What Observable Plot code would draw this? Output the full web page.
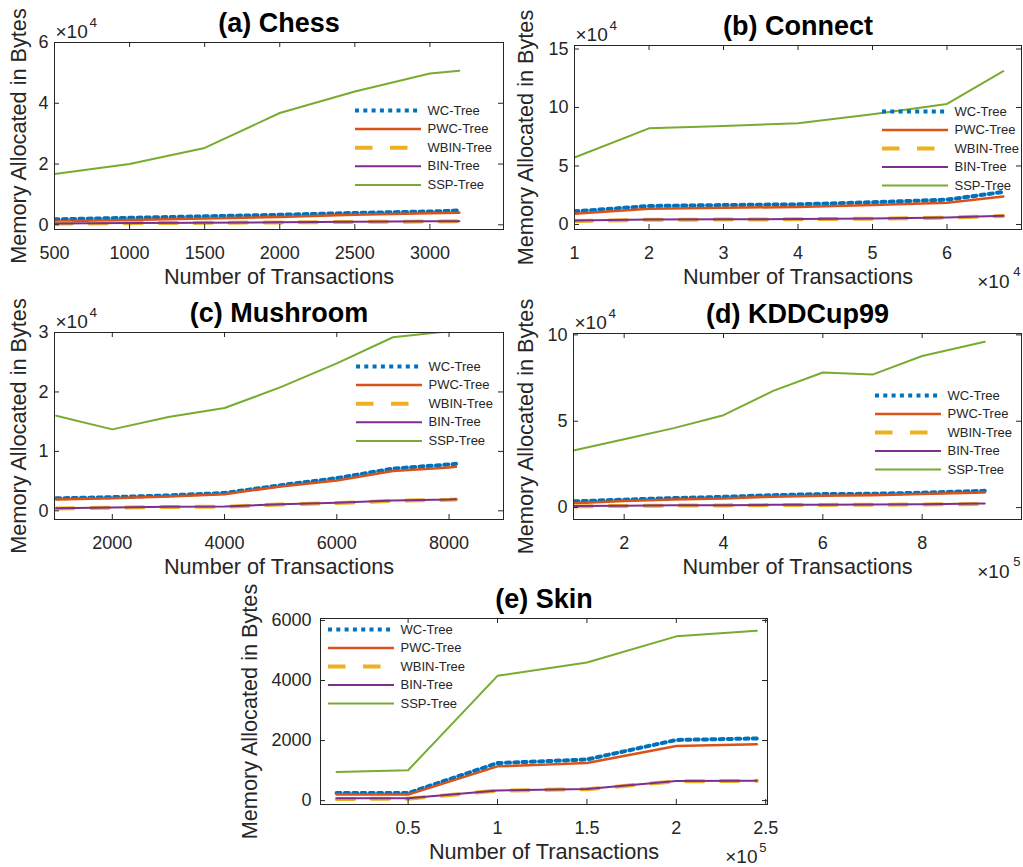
<!DOCTYPE html>
<html>
<head>
<meta charset="utf-8">
<script src="https://cdn.jsdelivr.net/npm/d3@7"></script>
<script src="https://cdn.jsdelivr.net/npm/@observablehq/plot@0.6"></script>
<style>
  html, body { margin: 0; padding: 0; background: #ffffff; }
  #root { position: relative; width: 1023px; height: 867px; overflow: hidden; background: #ffffff;
          font-family: "Liberation Sans", Arial, Helvetica, sans-serif; }
  .pnl { position: absolute; }
</style>
</head>
<body>
<div id="root"></div>
<script>
// ---------- data ----------
const seriesNames = ["WC-Tree", "PWC-Tree", "WBIN-Tree", "BIN-Tree", "SSP-Tree"];

const chessX    = [500, 1000, 1500, 2000, 2500, 3000, 3196];
const chessWC   = [1800, 2300, 2800, 3300, 3900, 4400, 4700];
const chessPWC  = [1100, 1600, 2100, 2600, 3300, 3800, 3950];
const chessWBIN = [400, 550, 650, 800, 950, 1100, 1150];
const chessBIN  = [450, 600, 700, 850, 1000, 1150, 1200];
const chessSSP  = [16700, 20000, 25300, 36800, 43900, 49800, 50700];

const connectX    = [10000, 20000, 30000, 40000, 50000, 60000, 67557];
const connectWC   = [11200, 15800, 16600, 17200, 19000, 21200, 27800];
const connectPWC  = [9200, 13500, 14300, 14900, 16600, 18600, 24000];
const connectWBIN = [3000, 4000, 4200, 4400, 5000, 5800, 7200];
const connectBIN  = [3400, 4300, 4400, 4600, 5200, 6000, 7500];
const connectSSP  = [57300, 82200, 84200, 86500, 94300, 103000, 131000];

const mushroomX    = [1000, 2000, 3000, 4000, 5000, 6000, 7000, 8000, 8124];
const mushroomWC   = [2100, 2300, 2600, 3000, 4300, 5500, 7100, 7800, 7900];
const mushroomPWC  = [1900, 2100, 2400, 2800, 4100, 5100, 6700, 7300, 7400];
const mushroomWBIN = [400, 520, 650, 700, 1050, 1300, 1700, 1850, 1900];
const mushroomBIN  = [450, 560, 700, 730, 1100, 1350, 1750, 1900, 1950];
const mushroomSSP  = [16000, 13700, 15800, 17300, 20800, 24800, 29200, 30200, 30400];

const kddX    = [100000, 200000, 300000, 400000, 500000, 600000, 700000, 800000, 926000];
const kddWC   = [3600, 4600, 5500, 6200, 7200, 7800, 8000, 8600, 9700];
const kddPWC  = [2500, 3800, 4700, 5300, 6300, 6800, 7200, 7800, 8700];
const kddWBIN = [700, 950, 1150, 1250, 1450, 1550, 1650, 1750, 2100];
const kddBIN  = [900, 1100, 1300, 1400, 1600, 1700, 1800, 1900, 2300];
const kddSSP  = [33200, 39600, 46000, 53500, 67600, 78200, 77000, 87800, 96000];

const skinX    = [10000, 50000, 100000, 150000, 200000, 245057];
const skinWC   = [250, 250, 1250, 1370, 2020, 2070];
const skinPWC  = [200, 200, 1140, 1250, 1820, 1880];
const skinWBIN = [55, 60, 330, 380, 640, 660];
const skinBIN  = [80, 80, 340, 390, 650, 665];
const skinSSP  = [955, 1011, 4155, 4600, 5470, 5660];

const chessXTicks = [500, 1000, 1500, 2000, 2500, 3000];
const chessYTicks = [0, 20000, 40000, 60000];
const connectXTicks = [10000, 20000, 30000, 40000, 50000, 60000];
const connectYTicks = [0, 50000, 100000, 150000];
const mushroomXTicks = [2000, 4000, 6000, 8000];
const mushroomYTicks = [0, 10000, 20000, 30000];
const kddXTicks = [200000, 400000, 600000, 800000];
const kddYTicks = [0, 50000, 100000];
const skinXTicks = [50000, 100000, 150000, 200000, 250000];
const skinYTicks = [0, 2000, 4000, 6000];

// ---------- styles ----------
const FONT = "'Liberation Sans', Arial, Helvetica, sans-serif";
const AXC = "#262626";
const lineStyles = [
  {stroke: "#0072BD", strokeWidth: 4, strokeDasharray: "4,4.3"},
  {stroke: "#D95319", strokeWidth: 2.5},
  {stroke: "#EDB120", strokeWidth: 4, strokeDasharray: "17.5,17.5"},
  {stroke: "#7E2F8E", strokeWidth: 2},
  {stroke: "#77AC30", strokeWidth: 2}
];

const root = document.getElementById("root");

function place(node, left, top) {
  node.classList.add("pnl");
  node.style.left = left + "px";
  node.style.top = top + "px";
  root.appendChild(node);
}

function panel(cfg) {
  const fw = cfg.width - cfg.ml - cfg.mr;
  const fh = cfg.height - cfg.mt - cfg.mb;
  const marks = [];
  cfg.series.forEach((vals, k) => {
    const data = cfg.x.map((xv, i) => ({x: xv, y: vals[i]}));
    marks.push(Plot.line(data, {x: "x", y: "y", clip: true, ...lineStyles[k]}));
  });
  marks.push(
    Plot.frame({stroke: AXC, strokeWidth: 1}),
    Plot.tickX(cfg.xticks, {x: d => d, insetTop: fh - 5, stroke: AXC}),
    Plot.tickX(cfg.xticks, {x: d => d, insetBottom: fh - 5, stroke: AXC}),
    Plot.tickY(cfg.yticks, {y: d => d, insetRight: fw - 5, stroke: AXC}),
    Plot.tickY(cfg.yticks, {y: d => d, insetLeft: fw - 5, stroke: AXC}),
    Plot.axisX({ticks: cfg.xticks, tickFormat: cfg.xfmt, tickSize: 0, tickPadding: 17, fontSize: 18, label: null, anchor: "bottom"}),
    Plot.axisY({ticks: cfg.yticks, tickFormat: cfg.yfmt, tickSize: 0, tickPadding: cfg.ytp, fontSize: 18, label: null, anchor: "left"}),
    Plot.text([cfg.title], {text: d => d, frameAnchor: "top", dy: -19, lineAnchor: "middle", fontSize: 27, fontWeight: "bold", fill: "#000"}),
    Plot.text(["Number of Transactions"], {text: d => d, frameAnchor: "bottom", dy: 48, textAnchor: "middle", lineAnchor: "middle", fontSize: 21.7}),
    Plot.text(["Memory Allocated in Bytes"], {text: d => d, frameAnchor: "left", dx: cfg.ylabDx, rotate: -90, textAnchor: "middle", lineAnchor: "middle", fontSize: 21.7})
  );
  if (cfg.expTop) {
    marks.push(
      Plot.text(["\u00d710"], {text: d => d, frameAnchor: "top-left", dx: 1, dy: -5, textAnchor: "start", lineAnchor: "bottom", fontSize: 19}),
      Plot.text([cfg.expTop], {text: d => d, frameAnchor: "top-left", dx: 35, dy: -16, textAnchor: "start", lineAnchor: "bottom", fontSize: 13.5})
    );
  }
  if (cfg.expBottom) {
    const e = cfg.expBottomPos;
    marks.push(
      Plot.text(["\u00d710"], {text: d => d, frameAnchor: "bottom-right", dx: e[0], dy: e[1], textAnchor: "end", lineAnchor: "bottom", fontSize: 19}),
      Plot.text([cfg.expBottom], {text: d => d, frameAnchor: "bottom-right", dx: e[2], dy: e[3], textAnchor: "end", lineAnchor: "bottom", fontSize: 13})
    );
  }
  const svg = Plot.plot({
    width: cfg.width, height: cfg.height,
    marginLeft: cfg.ml, marginRight: cfg.mr, marginTop: cfg.mt, marginBottom: cfg.mb,
    x: {domain: cfg.xdom, inset: 0},
    y: {domain: cfg.ydom, inset: 0},
    style: {fontFamily: FONT, fontSize: "18px", color: AXC, background: "transparent", overflow: "visible"},
    marks
  });
  place(svg, cfg.left, cfg.top);

  // legend (transparent overlay)
  const step = cfg.legStep;
  const lmarks = seriesNames.map((name, k) =>
    Plot.ruleY([k], {y: d => 8 + d * step, x1: 0, x2: 66, ...lineStyles[k]})
  );
  lmarks.push(Plot.text(seriesNames, {x: 72, y: (d, i) => 8 + i * step, text: d => d, textAnchor: "start", lineAnchor: "middle", fontSize: 13, fill: AXC}));
  const leg = Plot.plot({
    width: 140, height: Math.ceil(16 + 4 * step), margin: 0,
    x: {type: "identity", axis: null}, y: {type: "identity", axis: null},
    style: {fontFamily: FONT, fontSize: "13px", color: AXC, background: "transparent", overflow: "visible"},
    marks: lmarks
  });
  place(leg, cfg.leg[0], cfg.leg[1] - 8);
}

const f1 = d => String(d);
const f1e4 = d => String(+(d / 1e4).toFixed(4));
const f1e5 = d => String(+(d / 1e5).toFixed(4));

panel({
  title: "(a) Chess", left: 0, top: 0, width: 512, height: 290, ml: 54, mr: 9, mt: 42, mb: 61,
  x: chessX, series: [chessWC, chessPWC, chessWBIN, chessBIN, chessSSP],
  xdom: [500, 3490], ydom: [-1540, 60000], xticks: chessXTicks, yticks: chessYTicks,
  xfmt: f1, yfmt: f1e4, ytp: 6, ylabDx: -35, expTop: "4", expBottom: null,
  leg: [355, 110], legStep: 18.6
});
panel({
  title: "(b) Connect", left: 512, top: 0, width: 511, height: 290, ml: 62, mr: 2, mt: 45, mb: 61,
  x: connectX, series: [connectWC, connectPWC, connectWBIN, connectBIN, connectSSP],
  xdom: [10000, 70000], ydom: [-4300, 153000], xticks: connectXTicks, yticks: connectYTicks,
  xfmt: f1e4, yfmt: f1e4, ytp: 6, ylabDx: -48, expTop: "4", expBottom: "4", expBottomPos: [-12, 58, -1, 46],
  leg: [881.7, 111], legStep: 18.5
});
panel({
  title: "(c) Mushroom", left: 0, top: 290, width: 512, height: 290, ml: 54, mr: 9, mt: 42, mb: 61,
  x: mushroomX, series: [mushroomWC, mushroomPWC, mushroomWBIN, mushroomBIN, mushroomSSP],
  xdom: [970, 8970], ydom: [-1460, 30000], xticks: mushroomXTicks, yticks: mushroomYTicks,
  xfmt: f1, yfmt: f1e4, ytp: 6, ylabDx: -35, expTop: "4", expBottom: null,
  leg: [356, 366], legStep: 18.6
});
panel({
  title: "(d) KDDCup99", left: 512, top: 290, width: 511, height: 290, ml: 61, mr: 2, mt: 43, mb: 61,
  x: kddX, series: [kddWC, kddPWC, kddWBIN, kddBIN, kddSSP],
  xdom: [98000, 1000000], ydom: [-6900, 100800], xticks: kddXTicks, yticks: kddYTicks,
  xfmt: f1e5, yfmt: f1e4, ytp: 6, ylabDx: -47, expTop: "4", expBottom: "5", expBottomPos: [-12, 58, -1, 46],
  leg: [875, 395], legStep: 18.5
});
panel({
  title: "(e) Skin", left: 200, top: 580, width: 623, height: 287, ml: 120, mr: 56, mt: 38, mb: 63,
  x: skinX, series: [skinWC, skinPWC, skinWBIN, skinBIN, skinSSP],
  xdom: [1000, 251000], ydom: [-130, 6065], xticks: skinXTicks, yticks: skinYTicks,
  xfmt: f1e5, yfmt: f1, ytp: 9, ylabDx: -70, expTop: null, expBottom: "5", expBottomPos: [-10, 58, -1, 47],
  leg: [327.7, 629.3], legStep: 18.5
});
</script>
</body>
</html>
